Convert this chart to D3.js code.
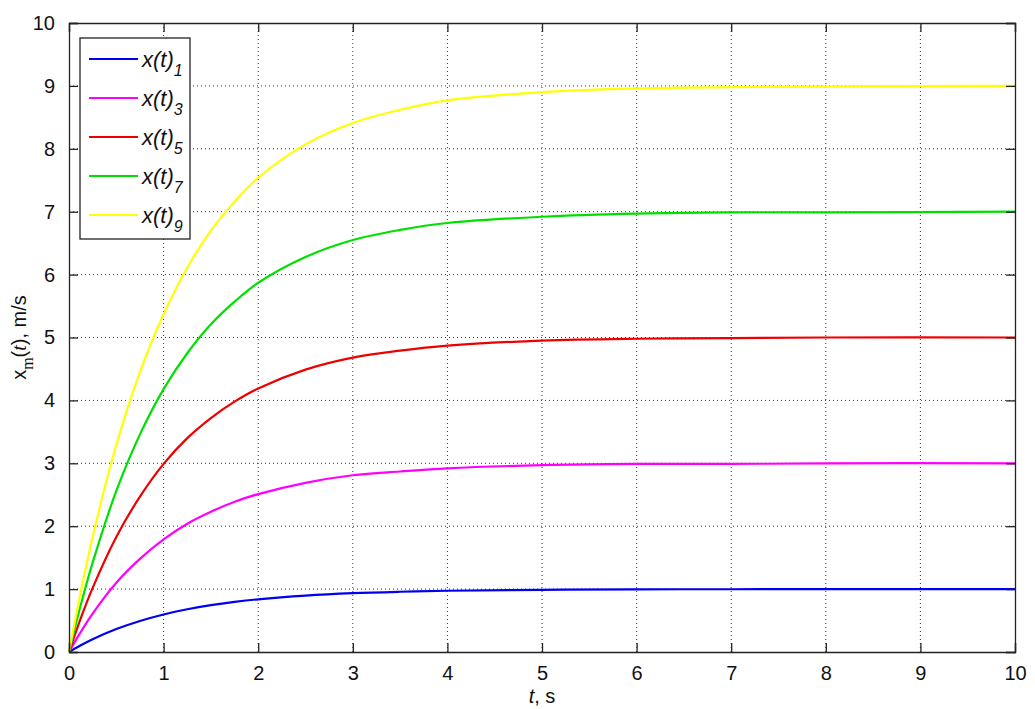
<!DOCTYPE html>
<html>
<head>
<meta charset="utf-8">
<script src="https://cdn.jsdelivr.net/npm/d3@7"></script>
<style>
  body { margin: 0; background: #fff; }
  text { font-family: "Liberation Sans", Arial, sans-serif; }
</style>
</head>
<body>
<svg id="chart" width="1035" height="709"></svg>
<script>
// time samples (s) and values
var tValues = [0, 0.125, 0.25, 0.5, 0.75, 1, 1.25, 1.5, 1.75, 2, 2.5, 3, 3.5, 4, 5, 6, 7, 8, 10];
var x1 = [0, 0.107, 0.203, 0.365, 0.494, 0.597, 0.679, 0.744, 0.796, 0.838, 0.897, 0.935, 0.958, 0.974, 0.989, 0.996, 0.998, 0.999, 1.0];
var x3 = [0, 0.32, 0.61, 1.10, 1.48, 1.79, 2.04, 2.23, 2.39, 2.51, 2.69, 2.81, 2.87, 2.92, 2.97, 2.99, 2.99, 3.0, 3.0];
var x5 = [0, 0.54, 1.02, 1.83, 2.47, 2.99, 3.40, 3.72, 3.98, 4.19, 4.49, 4.68, 4.79, 4.87, 4.95, 4.98, 4.99, 5.0, 5.0];
var x7 = [0, 0.75, 1.42, 2.56, 3.46, 4.18, 4.75, 5.21, 5.57, 5.87, 6.28, 6.55, 6.71, 6.82, 6.92, 6.97, 6.99, 6.99, 7.0];
var x9 = [0, 0.96, 1.83, 3.29, 4.45, 5.37, 6.11, 6.70, 7.16, 7.54, 8.07, 8.41, 8.62, 8.77, 8.90, 8.96, 8.98, 8.99, 9.0];
var seriesNames = ["1", "3", "5", "7", "9"];
var seriesColors = ["#0000f0", "#ff00ff", "#ee0000", "#00e000", "#ffff00"];
var xTicks = [0, 1, 2, 3, 4, 5, 6, 7, 8, 9, 10];
var yTicks = [0, 1, 2, 3, 4, 5, 6, 7, 8, 9, 10];

var allSeries = [x1, x3, x5, x7, x9];

var margin = {left: 69, top: 23, right: 20, bottom: 57};
var W = 1035, H = 709;
var pw = W - margin.left - margin.right;
var ph = H - margin.top - margin.bottom;

var svg = d3.select("#chart");
var g = svg.append("g").attr("transform", "translate(" + margin.left + "," + margin.top + ")");

var x = d3.scaleLinear().domain([0, 10]).range([0, pw]);
var y = d3.scaleLinear().domain([0, 10]).range([ph, 0]);

// grid
g.append("g").selectAll("line").data(xTicks.slice(1, -1)).enter().append("line")
  .attr("x1", d => x(d)).attr("x2", d => x(d)).attr("y1", 0).attr("y2", ph)
  .attr("stroke", "#333").attr("stroke-width", 1).attr("stroke-dasharray", "1,3");
g.append("g").selectAll("line").data(yTicks.slice(1, -1)).enter().append("line")
  .attr("y1", d => y(d)).attr("y2", d => y(d)).attr("x1", 0).attr("x2", pw)
  .attr("stroke", "#333").attr("stroke-width", 1).attr("stroke-dasharray", "1,3");

// curves
var line = d3.line()
  .x((d, i) => x(tValues[i]))
  .y(d => y(d))
  .curve(d3.curveCatmullRom.alpha(0.5));

g.append("g").selectAll("path").data(allSeries).enter().append("path")
  .attr("d", d => line(d))
  .attr("fill", "none")
  .attr("stroke", (d, i) => seriesColors[i])
  .attr("stroke-width", 2.2);

// axes (MATLAB box style, inward ticks)
var axBottom = d3.axisBottom(x).tickValues(xTicks).tickSize(-9).tickPadding(14);
var axLeft = d3.axisLeft(y).tickValues(yTicks).tickSize(-9).tickPadding(14);
var axTop = d3.axisTop(x).tickValues(xTicks).tickSize(-9).tickFormat("");
var axRight = d3.axisRight(y).tickValues(yTicks).tickSize(-9).tickFormat("");

function styleAxis(sel) {
  sel.select(".domain").attr("stroke", "#222").attr("stroke-width", 1.3);
  sel.selectAll(".tick line").attr("stroke", "#222").attr("stroke-width", 1.3);
  sel.selectAll(".tick text").attr("fill", "#111").style("font-size", "20px");
}

g.append("g").attr("transform", "translate(0," + ph + ")").call(axBottom).call(styleAxis);
g.append("g").call(axLeft).call(styleAxis);
g.append("g").call(axTop).call(styleAxis);
g.append("g").attr("transform", "translate(" + pw + ",0)").call(axRight).call(styleAxis);

// axis labels
var xl = svg.append("text")
  .attr("x", margin.left + pw / 2).attr("y", 703)
  .attr("text-anchor", "middle").style("font-size", "20px").attr("fill", "#111");
xl.append("tspan").attr("font-style", "italic").text("t");
xl.append("tspan").text(", s");

var yl = svg.append("text")
  .attr("transform", "translate(26," + (margin.top + ph / 2) + ") rotate(-90)")
  .attr("text-anchor", "middle").style("font-size", "20px").attr("fill", "#111");
yl.append("tspan").text("x");
yl.append("tspan").attr("dy", 7).style("font-family", "'Liberation Serif', serif").style("font-size", "16px").text("m");
yl.append("tspan").attr("dy", -7).text("(");
yl.append("tspan").style("font-family", "'Liberation Serif', serif").attr("font-style", "italic").text("t");
yl.append("tspan").text("), m/s");

// legend
var legend = g.append("g").attr("transform", "translate(11,15)");
legend.append("rect")
  .attr("width", 110).attr("height", 201)
  .attr("fill", "#fff").attr("stroke", "#222").attr("stroke-width", 1.3);

var items = legend.selectAll("g.item").data(seriesNames).enter().append("g")
  .attr("class", "item")
  .attr("transform", (d, i) => "translate(0," + (21 + i * 39) + ")");
items.append("line")
  .attr("x1", 9).attr("x2", 58).attr("y1", 0).attr("y2", 0)
  .attr("stroke", (d, i) => seriesColors[i]).attr("stroke-width", 2.2);
var lt = items.append("text").attr("x", 62).attr("y", 8)
  .style("font-size", "22px").attr("font-style", "italic").attr("fill", "#111");
lt.append("tspan").text("x(t)");
lt.append("tspan").attr("dy", 9).style("font-size", "16px").text(d => d);
</script>
</body>
</html>
